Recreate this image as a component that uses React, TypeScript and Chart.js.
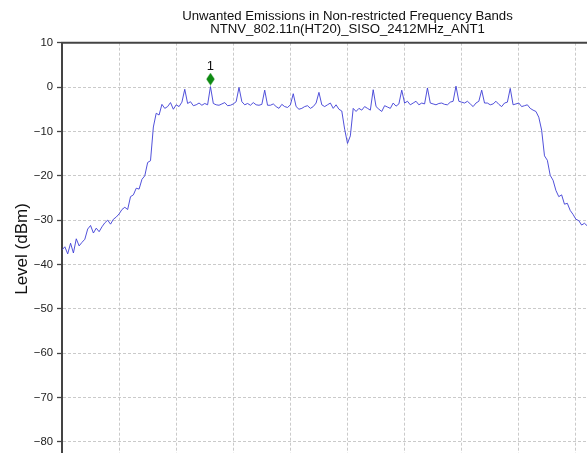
import React, { useEffect, useRef } from 'react';
import { Chart, registerables } from 'chart.js';

Chart.register(...registerables);

const TITLE_LINES = [
  'Unwanted Emissions in Non-restricted Frequency Bands',
  'NTNV_802.11n(HT20)_SISO_2412MHz_ANT1',
];
const Y_LABEL = 'Level (dBm)';
const Y_TICKS = [10, 0, -10, -20, -30, -40, -50, -60, -70, -80];
const X_TICKS = [2397, 2400, 2403, 2406, 2409, 2412, 2415, 2418, 2421, 2424, 2427];
const Y_MIN = -83;
const Y_MAX = 10;
const X_MIN = 2397;
const X_MAX = 2427;

// Trace sampled every STEP_MHZ starting at START_MHZ
const START_MHZ = 2397;
const STEP_MHZ = 0.15;
const LEVELS = [
  -36.7, -36.0, -37.6, -35.2, -37.4, -34.2, -35.8, -35.0, -34.3, -32.0,
  -31.2, -32.9, -31.8, -32.6, -31.5, -30.6, -30.0, -30.9, -29.8, -29.3,
  -28.6, -27.6, -27.1, -27.6, -24.7, -24.3, -22.8, -23.0, -20.8, -20.0,
  -17.0, -16.6, -9.0, -5.9, -6.3, -3.9, -4.8, -4.4, -3.5, -5.0,
  -4.0, -4.4, -3.4, -0.5, -3.7, -3.3, -4.2, -4.0, -3.6, -4.1,
  -3.7, -4.0, 0.1, -3.7, -4.0, -4.1, -3.8, -3.5, -4.2, -4.1,
  -3.8, -3.3, -0.1, -3.3, -4.0, -3.7, -4.1, -3.5, -4.0, -4.1,
  -3.9, -0.7, -4.1, -4.1, -3.8, -4.4, -4.8, -3.9, -4.4, -4.6,
  -4.0, -1.5, -4.4, -5.0, -4.8, -4.4, -4.2, -4.8, -4.4, -3.6,
  -1.2, -4.0, -4.4, -4.0, -3.6, -4.8, -4.0, -5.0, -5.4, -9.5,
  -12.7, -11.0, -4.8, -5.5, -4.8, -5.2, -4.4, -4.8, -5.2, -0.6,
  -4.4, -5.0, -5.5, -4.2, -4.5, -4.8, -3.6, -4.3, -3.8, -0.7,
  -3.6, -3.2, -4.0, -3.6, -3.2, -4.0, -3.6, -3.8, -0.2, -3.6,
  -3.8, -4.0, -3.7, -3.6, -3.9, -4.0, -3.4, -3.2, 0.2, -3.2,
  -3.4, -3.6, -3.2, -3.8, -4.4, -3.6, -3.2, -0.7, -3.6, -3.6,
  -4.0, -3.8, -3.2, -3.9, -4.4, -3.6, -3.4, -0.3, -4.0, -3.8,
  -3.6, -4.4, -4.2, -4.0, -4.8, -5.2, -5.5, -6.8, -9.7, -15.5,
  -16.5, -19.9, -21.0, -23.3, -24.7, -24.3, -26.4, -26.2, -27.8, -28.7,
  -29.8, -30.1, -31.1, -30.7, -31.3, -31.5, -32.2, -31.8, -32.6, -33.1,
  -32.7, -33.4, -33.9, -33.5, -34.2, -34.6, -34.3, -35.0, -35.4, -35.1,
];

const MARKER_FREQS = [2404.8];
const MARKER_LEVELS = [1.8];
const MARKER_LABELS = ['1'];

const FONT = '"Liberation Sans", Arial, Helvetica, sans-serif';
const SPINE = '#444444';

function makeDiamond(): HTMLCanvasElement {
  const c = document.createElement('canvas');
  c.width = 9;
  c.height = 13;
  const g = c.getContext('2d')!;
  g.fillStyle = '#0e8a12';
  g.beginPath();
  g.moveTo(4.5, 0.3);
  g.lineTo(8.7, 6.5);
  g.lineTo(4.5, 12.7);
  g.lineTo(0.3, 6.5);
  g.closePath();
  g.fill();
  return c;
}

export default function App() {
  const ref = useRef<HTMLCanvasElement | null>(null);

  useEffect(() => {
    document.body.style.overflow = 'hidden';
    const canvas = ref.current!;
    const traceData = LEVELS.map((y, i) => ({ x: START_MHZ + i * STEP_MHZ, y }));
    const markerData = MARKER_FREQS.map((x, i) => ({ x, y: MARKER_LEVELS[i] }));

    const titlePlugin = {
      id: 'figTitle',
      afterDraw(chart: any) {
        const { ctx, chartArea } = chart;
        const cx = (chartArea.left + chartArea.right) / 2;
        ctx.save();
        ctx.fillStyle = '#111111';
        ctx.font = `13.2px ${FONT}`;
        ctx.textAlign = 'center';
        ctx.textBaseline = 'middle';
        ctx.fillText(TITLE_LINES[0], cx, 16);
        ctx.fillText(TITLE_LINES[1], cx, 29.5);
        ctx.restore();
      },
    };

    const spinePlugin = {
      id: 'topSpine',
      afterDatasetsDraw(chart: any) {
        const { ctx, chartArea } = chart;
        ctx.save();
        ctx.strokeStyle = SPINE;
        ctx.lineWidth = 2;
        ctx.beginPath();
        ctx.moveTo(chartArea.left - 1, chartArea.top);
        ctx.lineTo(chartArea.right, chartArea.top);
        ctx.stroke();
        ctx.restore();
      },
    };

    const markerLabelPlugin = {
      id: 'markerLabel',
      afterDatasetsDraw(chart: any) {
        const { ctx } = chart;
        const meta = chart.getDatasetMeta(1);
        ctx.save();
        ctx.fillStyle = '#111111';
        ctx.font = `13px ${FONT}`;
        ctx.textAlign = 'center';
        ctx.textBaseline = 'middle';
        meta.data.forEach((pt: any, i: number) => {
          ctx.fillText(MARKER_LABELS[i], pt.x, pt.y - 12.5);
        });
        ctx.restore();
      },
    };

    const chart = new Chart(canvas, {
      type: 'line',
      data: {
        datasets: [
          {
            data: traceData,
            borderColor: '#3d3dd6',
            borderWidth: 0.9,
            pointRadius: 0,
            tension: 0,
            fill: false,
          },
          {
            type: 'scatter',
            data: markerData,
            pointStyle: makeDiamond(),
            pointRadius: 6,
            showLine: false,
          } as any,
        ],
      },
      options: {
        animation: false,
        responsive: false,
        events: [],
        layout: { padding: { top: 42.7, right: 27, bottom: 44.7, left: 0 } },
        plugins: {
          legend: { display: false },
          tooltip: { enabled: false },
          title: { display: false },
        },
        scales: {
          x: {
            type: 'linear',
            min: X_MIN,
            max: X_MAX,
            afterBuildTicks: (scale: any) => {
              scale.ticks = X_TICKS.map((v) => ({ value: v }));
            },
            ticks: { display: false },
            grid: {
              color: '#bdbdbd',
              lineWidth: 0.8,
              drawTicks: false,
            },
            border: { display: true, color: SPINE, width: 2, dash: [3, 2] },
          },
          y: {
            type: 'linear',
            min: Y_MIN,
            max: Y_MAX,
            afterBuildTicks: (scale: any) => {
              scale.ticks = Y_TICKS.map((v) => ({ value: v }));
            },
            afterFit: (scale: any) => {
              scale.width = 62;
            },
            ticks: {
              color: '#222222',
              font: { family: FONT, size: 11.3 },
              padding: 4,
              callback: (v: any) => (Number(v) < 0 ? '\u2212' + Math.abs(Number(v)) : String(v)),
            },
            grid: {
              color: '#bdbdbd',
              lineWidth: 0.8,
              drawTicks: true,
              tickLength: 5,
              tickColor: SPINE,
              tickWidth: 1.3,
              tickBorderDash: [],
            },
            border: { display: true, color: SPINE, width: 2, dash: [3, 2] },
            title: {
              display: true,
              text: Y_LABEL,
              color: '#111111',
              font: { family: FONT, size: 17 },
              padding: { top: 12, bottom: 0 },
            },
          },
        },
      },
      plugins: [titlePlugin, spinePlugin, markerLabelPlugin],
    });

    return () => chart.destroy();
  }, []);

  return (
    <div style={{ position: 'fixed', left: 0, top: 0, width: 660, height: 500, background: '#ffffff' }}>
      <canvas ref={ref} width={660} height={500} style={{ display: 'block' }} />
    </div>
  );
}
